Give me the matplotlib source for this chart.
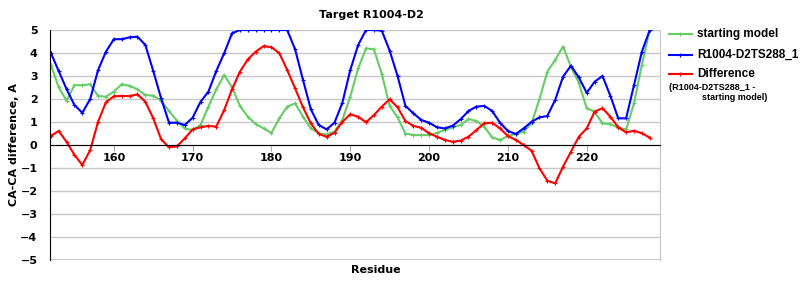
import matplotlib
matplotlib.use("Agg")
import matplotlib.pyplot as plt
from matplotlib.lines import Line2D

# Номера остатков
residues = list(range(152, 229))

# starting model
start_model = [3.5, 2.51, 1.93, 2.6, 2.6, 2.64, 2.13, 2.1, 2.32, 2.64,
               2.57, 2.42, 2.17, 2.15, 1.93, 1.48, 1.06, 0.72, 0.65, 0.87,
               1.67, 2.42, 3.04, 2.51, 1.7, 1.23, 0.91, 0.72, 0.53, 1.16,
               1.67, 1.81, 1.23, 0.72, 0.51, 0.46, 0.58, 1.09, 2.1, 3.33,
               4.2, 4.16, 3.09, 1.7, 1.2, 0.5, 0.43, 0.43, 0.43, 0.53,
               0.65, 0.77, 0.87, 1.13, 1.04, 0.8, 0.33, 0.22, 0.39, 0.48,
               0.58, 0.94, 1.99, 3.19, 3.7, 4.28, 3.4, 2.71, 1.6, 1.45,
               0.94, 0.91, 0.75, 0.68, 1.81, 3.48, 5.0]

# R1004-D2TS288_1
model_ts288 = [4.01, 3.22, 2.43, 1.74, 1.4, 2.0, 3.26, 4.06, 4.6, 4.6,
               4.68, 4.71, 4.35, 3.22, 2.03, 0.97, 0.97, 0.87, 1.19, 1.88,
               2.32, 3.22, 3.99, 4.86, 5.0, 5.0, 5.0, 5.0, 5.0, 5.0,
               5.0, 4.16, 2.83, 1.55, 0.87, 0.68, 0.97, 1.84, 3.26, 4.35,
               5.0, 5.0, 4.97, 4.1, 3.0, 1.7, 1.38, 1.09, 0.97, 0.77,
               0.72, 0.84, 1.12, 1.48, 1.67, 1.7, 1.48, 0.97, 0.61, 0.48,
               0.72, 1.01, 1.2, 1.26, 1.96, 2.97, 3.45, 2.94, 2.27, 2.75,
               3.0, 2.14, 1.16, 1.16, 2.6, 4.06, 5.0]

# Difference
difference = [0.39, 0.61, 0.14, -0.43, -0.87, -0.22, 1.01, 1.86, 2.12, 2.13,
              2.13, 2.2, 1.88, 1.16, 0.25, -0.1, -0.06, 0.29, 0.68, 0.77,
              0.83, 0.8, 1.52, 2.42, 3.19, 3.72, 4.06, 4.3, 4.25, 3.99,
              3.26, 2.46, 1.64, 0.94, 0.48, 0.36, 0.53, 1.01, 1.33, 1.23,
              0.99, 1.3, 1.67, 1.99, 1.64, 1.04, 0.83, 0.75, 0.51, 0.36,
              0.22, 0.14, 0.19, 0.36, 0.65, 0.94, 0.97, 0.72, 0.39, 0.22,
              0.0, -0.25, -1.01, -1.55, -1.67, -0.94, -0.29, 0.36, 0.72, 1.45,
              1.6, 1.23, 0.77, 0.55, 0.62, 0.51, 0.32]

green = "#66CC66"
blue = "#0000FF"
red = "#FF0000"
grid_col = "#C8C8C8"

plt.rcParams['font.family'] = ['DejaVu Sans']
plt.rcParams['font.weight'] = 'bold'

fig = plt.figure(figsize=(8, 3), dpi=100)
ax = fig.add_axes([0.0625, 0.1333, 0.7625, 0.7667])

style = dict(lw=1.5, marker='+', ms=3, mew=0.8)
ax.plot(residues, start_model, color=green, **style)
ax.plot(residues, model_ts288, color=blue, **style)
ax.plot(residues, difference, color=red, **style)

ax.set_xlim(151.9, 229.3)
ax.set_ylim(-5, 5)
ax.set_yticks(range(-5, 6))
ax.set_xticks(range(160, 221, 10))
ax.yaxis.grid(True, color=grid_col, lw=1)
ax.set_axisbelow(True)

ax.spines['bottom'].set_position(('data', 0))
ax.spines['bottom'].set_color('black')
ax.spines['left'].set_color('black')
ax.spines['top'].set_visible(False)
ax.spines['right'].set_color(grid_col)
ax.axhline(-5, color=grid_col, lw=1.5, zorder=0)

ax.tick_params(axis='y', length=0, pad=9, labelsize=8)
ax.tick_params(axis='x', length=4, color='#AAAAAA', pad=2, labelsize=8)
for lab in ax.get_xticklabels() + ax.get_yticklabels():
    lab.set_fontweight('bold')

fig.text(0.464, 0.95, "Target R1004-D2", ha='center', va='center',
         fontsize=8, fontweight='bold')
fig.text(0.017, 0.5167, "CA-CA difference, A", rotation=90, ha='center',
         va='center', fontsize=8, fontweight='bold')
fig.text(0.47, 0.1, "Residue", ha='center', va='center',
         fontsize=8, fontweight='bold')

# Легенда
leg_font = ['Liberation Sans', 'DejaVu Sans']
legend_items = [(green, "starting model", 0.887), (blue, "R1004-D2TS288_1", 0.817),
                (red, "Difference", 0.753)]
for col, txt, yy in legend_items:
    fig.add_artist(Line2D([0.836, 0.865], [yy, yy], color=col, lw=1.5,
                          transform=fig.transFigure))
    fig.add_artist(Line2D([0.8505], [yy], color=col, marker='+', ms=3,
                          mew=0.8, transform=fig.transFigure))
    fig.text(0.871, yy, txt, ha='left', va='center', fontsize=8.5,
             fontweight='bold', family=leg_font)
fig.text(0.836, 0.709, "(R1004-D2TS288_1 -", ha='left', va='center',
         fontsize=6.5, fontweight='bold', family=leg_font)
fig.text(0.877, 0.674, "starting model)", ha='left', va='center',
         fontsize=6.5, fontweight='bold', family=leg_font)

fig.savefig("out.png", dpi=100)
